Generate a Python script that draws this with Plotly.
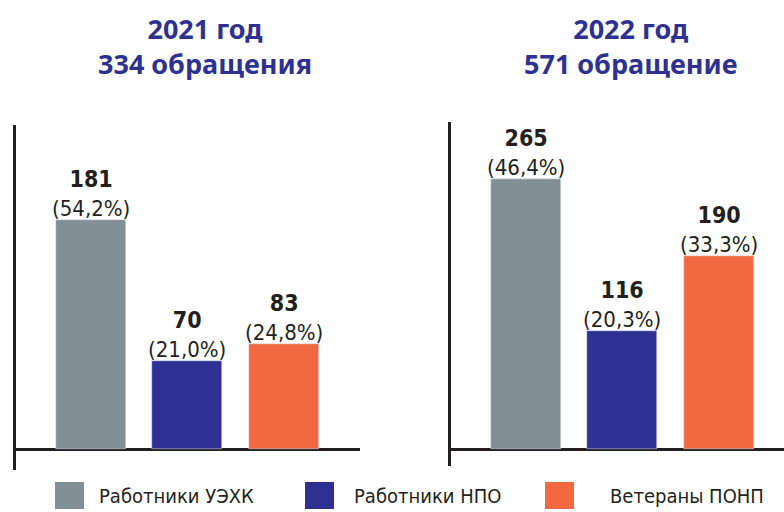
import plotly.graph_objects as go

categories = ["Работники УЭХК", "Работники НПО", "Ветераны ПОНП"]
colors = ["#838f96", "#2e3192", "#f26841"]
values_2021 = [181, 70, 83]
pct_2021 = ["54,2%", "21,0%", "24,8%"]
values_2022 = [265, 116, 190]
pct_2022 = ["46,4%", "20,3%", "33,3%"]
titles = ["2021 год<br>334 обращения", "2022 год<br>571 обращение"]

W, H = 784, 512
def px(x): return x / W
def py(y): return 1 - y / H

fig = go.Figure()
fig.add_trace(go.Bar(x=categories, y=values_2021, marker_color=colors, width=0.725,
                     xaxis="x", yaxis="y", showlegend=False))
fig.add_trace(go.Bar(x=categories, y=values_2022, marker_color=colors, width=0.725,
                     xaxis="x2", yaxis="y2", showlegend=False))

axis_col = "#231f20"
label_font = "DejaVu Sans Condensed, Roboto"
annotations = []
for vals, pcts, xr, yr in [(values_2021, pct_2021, "x", "y"), (values_2022, pct_2022, "x2", "y2")]:
    for c, v, p in zip(categories, vals, pcts):
        annotations.append(dict(
            x=c, y=v, xref=xr, yref=yr, yanchor="bottom", showarrow=False,
            text=f"<b><span style='font-size:23px'>{v}</span></b><br>({p})", align="center",
            font=dict(family=label_font, size=22, color=axis_col), yshift=-3))

title_x = [205, 630]
for t, cx in zip(titles, title_x):
    annotations.append(dict(x=px(cx), y=py(46), xref="paper", yref="paper",
                            xanchor="center", yanchor="middle", showarrow=False, text=f"<b>{t}</b>",
                            font=dict(family="Noto Sans", size=27, color="#2e3192")))

shapes = []
legend_sq = [55, 305, 545]
legend_tx = [97, 352, 608]
for c, col, sx, tx in zip(categories, colors, legend_sq, legend_tx):
    shapes.append(dict(type="rect", xref="paper", yref="paper", x0=px(sx), x1=px(sx + 29),
                       y0=py(509), y1=py(482), fillcolor=col, line=dict(width=0)))
    annotations.append(dict(x=px(tx), y=py(496), xref="paper", yref="paper", xanchor="left",
                            yanchor="middle", showarrow=False, text=c,
                            font=dict(family=label_font, size=20, color=axis_col)))

common_x = dict(type="category", showgrid=False, showticklabels=False, ticks="", showline=False, zeroline=False, fixedrange=True)
common_y = dict(showgrid=False, showticklabels=False, ticks="", showline=True, linecolor=axis_col, linewidth=2.5,
                zeroline=True, zerolinecolor=axis_col, zerolinewidth=2.5)

fig.update_layout(
    width=W, height=H, margin=dict(l=0, r=0, t=0, b=0),
    paper_bgcolor="white", plot_bgcolor="white",
    xaxis=dict(domain=[px(16), px(360)], range=[-0.777, 2.788], anchor="y", **common_x),
    yaxis=dict(domain=[py(470), py(125)], range=[-16.6, 256.3], anchor="x", **common_y),
    xaxis2=dict(domain=[px(451), 1.0], range=[-0.777, 2.674], anchor="y2", **common_x),
    yaxis2=dict(domain=[py(466), py(122)], range=[-16.7, 321.5], anchor="x2", **common_y),
    annotations=annotations, shapes=shapes, bargap=0,
)
fig.write_html("out.html")
